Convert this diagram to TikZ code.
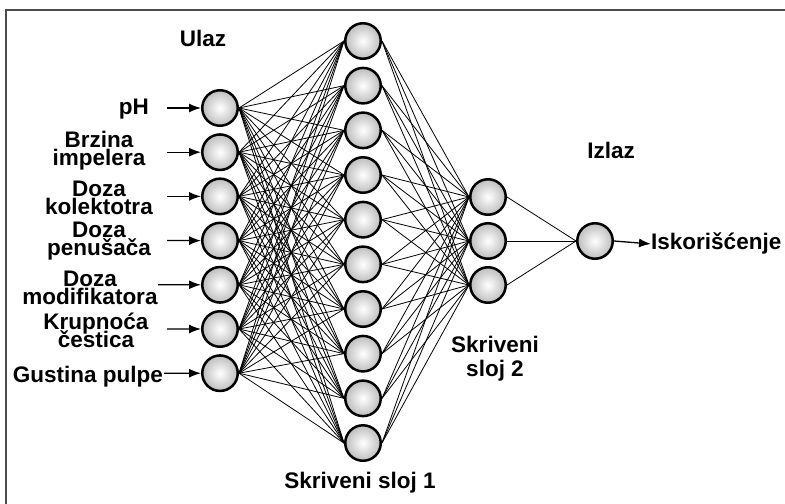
\documentclass[tikz,border=0pt]{standalone}
\usepackage{fontspec}
\setmainfont{Liberation Sans}
\usetikzlibrary{arrows.meta}
\pgfdeclareradialshading{nnball}{\pgfpoint{0bp}{0bp}}{color(0bp)=(white); color(5bp)=(white!95!black); color(50bp)=(black!52); color(100bp)=(black!52)}
\setlength{\lineskiplimit}{-50pt}
\begin{document}
\begin{tikzpicture}[x=1bp,y=-1bp,
  neuron/.style={circle, draw=black, line width=2.5bp, minimum size=35.5bp, inner sep=0pt, shade, shading=nnball},
  edge/.style={black, line width=0.8bp},
  inarrow/.style={black, line width=1.3bp, -{Latex[length=12bp,width=9bp]}},
  lbl/.style={font=\bfseries\fontsize{22.5bp}{18bp}\selectfont, align=center, inner sep=0pt, text=black}]
\useasboundingbox (0,0) rectangle (785,504);
\draw[black!70, line width=1.6bp] (6,504) -- (6,10) -- (785,10);

% input layer
\foreach \k [count=\i] in {0,...,6}
  \node[neuron] (i\i) at (220,{108+44.2*\k}) {};
% hidden layer 1
\foreach \k [count=\i] in {0,...,9}
  \node[neuron] (h\i) at (363,{41+44.67*\k}) {};
% hidden layer 2
\foreach \k [count=\i] in {0,1,2}
  \node[neuron] (g\i) at (488,{197+44*\k}) {};
% output
\node[neuron] (o1) at (595,241) {};

% connections
\foreach \i in {1,...,7}
  \foreach \j in {1,...,10}
    \draw[edge] (i\i.east) -- (h\j.west);
\foreach \j in {1,...,10}
  \foreach \k in {1,2,3}
    \draw[edge] (h\j.east) -- (g\k.west);
\foreach \k in {1,2,3}
  \draw[edge] (g\k.east) -- (o1.west);

% labels
\node[lbl, anchor=base] (tUlaz) at (203,47) {Ulaz};
\node[lbl, anchor=base] (tIzlaz) at (611,159) {Izlaz};
\node[lbl, anchor=base] (tS1) at (360,488) {Skriveni sloj 1};
\node[lbl, font=\bfseries\fontsize{22.5bp}{24bp}\selectfont] (tS2) at (495,359) {Skriveni\\sloj 2};

\node[lbl, anchor=base east] (l1) at (149,115) {pH};
\node[lbl] (l2) at (99,151) {Brzina\\impelera};
\node[lbl] (l3) at (99,198) {Doza\\kolektotra};
\node[lbl] (l4) at (99,241) {Doza\\penušača};
\node[lbl] (l5) at (90,288) {Doza\\modifikatora};
\node[lbl] (l6) at (96,330) {Krupnoća\\čestica};
\node[lbl, anchor=base east] (l7) at (163,382) {Gustina pulpe};

\coordinate (a1) at (167,108);
\coordinate (a2) at (167,152.2);
\coordinate (a3) at (167,196.4);
\coordinate (a4) at (167,240.6);
\coordinate (a5) at (158,284.8);
\coordinate (a6) at (167,329);
\coordinate (a7) at (164,373.2);
\foreach \i in {1,...,7}
  \draw[inarrow] (a\i) -- (i\i.west);

\node[lbl, anchor=base west] (tIsk) at (651,250) {Iskorišćenje};
\draw[inarrow] (o1.east) -- (tIsk.west);
\end{tikzpicture}
\end{document}
